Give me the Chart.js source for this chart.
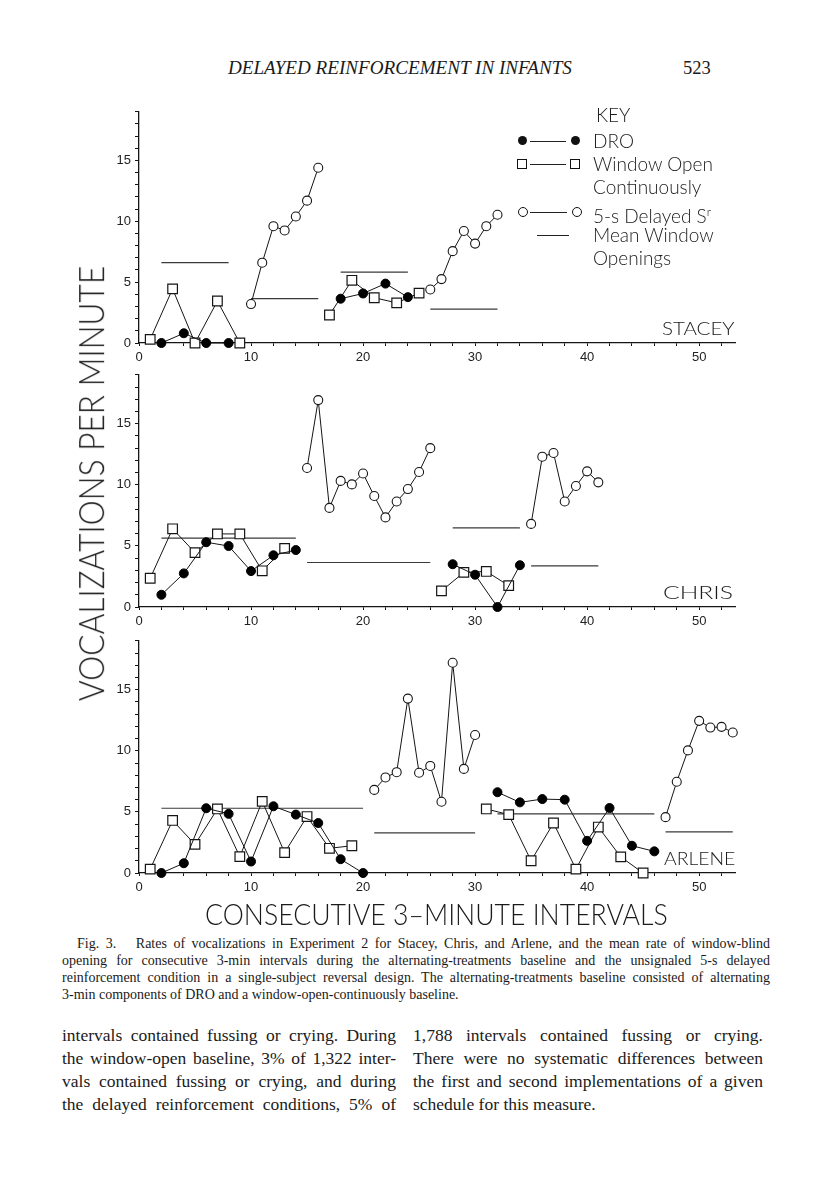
<!DOCTYPE html>
<html lang="en">
<head>
<meta charset="UTF-8" />
<title>Delayed reinforcement in infants - Fig. 3</title>
<script src="https://cdn.jsdelivr.net/npm/chart.js@4.4.1/dist/chart.umd.min.js"></script>
<style>
  body { margin: 0; background: #fff; }
  #page { position: relative; width: 816px; height: 1200px; overflow: hidden; background: #fff; color: #1a1a1a; }
  .abs { position: absolute; white-space: nowrap; }
  .serif { font-family: "Liberation Serif", "DejaVu Serif", serif; }
  .thin { font-family: "Lato", "Open Sans", sans-serif; font-weight: 300; }
  .panel { position: absolute; left: 100px; }
  .key { font-size: 19px; line-height: 24px; }
  .dot, .sq, .ring, .seg { position: absolute; }
  .dot { width: 9px; height: 9px; border-radius: 50%; background: #111; }
  .ring { width: 8px; height: 8px; border-radius: 50%; border: 1px solid #111; }
  .sq { width: 8px; height: 8px; border: 1px solid #111; }
  .seg { height: 1px; background: #222; }
  .jl { text-align: justify; text-align-last: justify; white-space: nowrap; overflow: visible; }
</style>
</head>
<body>
<div id="page">
  <div class="abs serif fit" data-w="344" style="left:228px; top:58px; font-size:18px; font-style:italic;">DELAYED REINFORCEMENT IN INFANTS</div>
  <div class="abs serif" style="left:683px; top:58px; font-size:18.5px;">523</div>

  <canvas id="stacey" class="panel" width="650" height="268" style="top:100px"></canvas>
  <canvas id="chris" class="panel" width="650" height="269" style="top:363px"></canvas>
  <canvas id="arlene" class="panel" width="650" height="269" style="top:629px"></canvas>

  <!-- key -->
  <div class="abs thin key" style="left:596px; top:103px;">KEY</div>
  <div class="dot" style="left:518px; top:136px;"></div>
  <div class="seg" style="left:530px; top:141px; width:36px;"></div>
  <div class="dot" style="left:571px; top:136px;"></div>
  <div class="abs thin key" style="left:593px; top:129px;">DRO</div>

  <div class="sq" style="left:517px; top:159px;"></div>
  <div class="seg" style="left:530px; top:164px; width:36px;"></div>
  <div class="sq" style="left:570px; top:159px;"></div>
  <div class="abs thin key" style="left:593px; top:152px;">Window Open</div>
  <div class="abs thin key" style="left:593px; top:175px;">Continuously</div>

  <div class="ring" style="left:518px; top:207px;"></div>
  <div class="seg" style="left:530px; top:212px; width:37px;"></div>
  <div class="ring" style="left:572px; top:207px;"></div>
  <div class="abs thin key" style="left:593px; top:200px;">5-s Delayed S<sup style="font-size:12px;">r</sup></div>

  <div class="seg" style="left:537px; top:235px; width:32px;"></div>
  <div class="abs thin key" style="left:593px; top:223px;">Mean Window</div>
  <div class="abs thin key" style="left:593px; top:246px;">Openings</div>

  <!-- subject names -->
  <div class="abs thin fit" data-w="73" style="left:662px; top:317px; font-size:18px;">STACEY</div>
  <div class="abs thin fit" data-w="70" style="left:663px; top:581px; font-size:18px;">CHRIS</div>
  <div class="abs thin fit" data-w="71" style="left:664px; top:847px; font-size:18px;">ARLENE</div>

  <!-- axis titles -->
  <div id="ytitle" class="abs thin" style="font-size:35px; line-height:35px;">VOCALIZATIONS PER MINUTE</div>
  <div class="abs thin fit" data-w="463" style="left:205px; top:899px; font-size:29px; line-height:30px;">CONSECUTIVE 3&ndash;MINUTE INTERVALS</div>

  <!-- caption -->
  <div class="abs serif" style="left:62px; top:935px; width:708px; font-size:14px; line-height:17px;">
    <div class="jl" style="padding-left:15px;">Fig. 3.&nbsp;&nbsp; Rates of vocalizations in Experiment 2 for Stacey, Chris, and Arlene, and the mean rate of window-blind</div>
    <div class="jl">opening for consecutive 3-min intervals during the alternating-treatments baseline and the unsignaled 5-s delayed</div>
    <div class="jl">reinforcement condition in a single-subject reversal design. The alternating-treatments baseline consisted of alternating</div>
    <div>3-min components of DRO and a window-open-continuously baseline.</div>
  </div>

  <!-- body text -->
  <div class="abs serif" style="left:62px; top:1024px; width:334px; font-size:17.5px; line-height:23px;">
    <div class="jl">intervals contained fussing or crying. During</div>
    <div class="jl">the window-open baseline, 3% of 1,322 inter-</div>
    <div class="jl">vals contained fussing or crying, and during</div>
    <div class="jl">the delayed reinforcement conditions, 5% of</div>
  </div>
  <div class="abs serif" style="left:413px; top:1024px; width:350px; font-size:17.5px; line-height:23px;">
    <div class="jl">1,788 intervals contained fussing or crying.</div>
    <div class="jl">There were no systematic differences between</div>
    <div class="jl">the first and second implementations of a given</div>
    <div>schedule for this measure.</div>
  </div>
</div>

<script>
// [x, y] per session, one inner list per phase
const staceyDRO = [
  [[2, 0], [4, 0.8], [6, 0], [8, 0]],
  [[18, 3.64], [20, 4.07], [22, 4.88], [24, 3.77]]
];
const staceyWindow = [
  [[1, 0.3], [3, 4.45], [5, 0], [7, 3.45], [9, 0]],
  [[17, 2.3], [19, 5.15], [21, 3.72], [23, 3.3], [25, 4.1]]
];
const staceyDelayed = [
  [[10, 3.2], [11, 6.6], [12, 9.6], [13, 9.25], [14, 10.4], [15, 11.7], [16, 14.4]],
  [[26, 4.4], [27, 5.25], [28, 7.55], [29, 9.2], [30, 8.17], [31, 9.6], [32, 10.54]]
];
// [from, to, mean]
const staceyMeans = [[2, 8, 6.6], [10, 16, 3.64], [18, 24, 5.82], [26, 32, 2.78]];

const chrisDRO = [
  [[2, 1.0], [4, 2.75], [6, 5.3], [8, 4.99], [10, 2.94], [12, 4.23], [14, 4.66]],
  [[28, 3.5], [30, 2.64], [32, 0], [34, 3.42]]
];
const chrisWindow = [
  [[1, 2.35], [3, 6.4], [5, 4.45], [7, 5.98], [9, 5.98], [11, 2.96], [13, 4.8]],
  [[27, 1.32], [29, 2.83], [31, 2.91], [33, 1.75]]
];
const chrisDelayed = [
  [[15, 11.37], [16, 16.93], [17, 8.11], [18, 10.32], [19, 10.03], [20, 10.92], [21, 9.08],
   [22, 7.33], [23, 8.63], [24, 9.65], [25, 11.05], [26, 13.0]],
  [[35, 6.8], [36, 12.3], [37, 12.6], [38, 8.63], [39, 9.9], [40, 11.1], [41, 10.2]]
];
const chrisMeans = [[2, 14, 5.63], [15, 26, 3.64], [28, 34, 6.47], [35, 41, 3.37]];

const arleneDRO = [
  [[2, 0], [4, 0.8], [6, 5.3], [8, 4.84], [10, 0.94], [12, 5.46], [14, 4.78], [16, 4.09], [18, 1.13], [20, 0]],
  [[32, 6.61], [34, 5.78], [36, 6.05], [38, 6.0], [40, 2.63], [42, 5.32], [44, 2.23], [46, 1.77]]
];
const arleneWindow = [
  [[1, 0.32], [3, 4.3], [5, 2.34], [7, 5.24], [9, 1.34], [11, 5.86], [13, 1.67], [15, 4.62], [17, 2.02], [19, 2.23]],
  [[31, 5.24], [33, 4.78], [35, 1.0], [37, 4.09], [39, 0.32], [41, 3.76], [43, 1.32], [45, 0]]
];
const arleneDelayed = [
  [[21, 6.8], [22, 7.82], [23, 8.25], [24, 14.27], [25, 8.2], [26, 8.76], [27, 5.83], [28, 17.2], [29, 8.52], [30, 11.29]],
  [[47, 4.57], [48, 7.47], [49, 10.03], [50, 12.45], [51, 11.9], [52, 11.96], [53, 11.5]]
];
const arleneMeans = [[2, 20, 5.3], [21, 30, 3.28], [32, 46, 4.84], [47, 53, 3.36]];

const yMax = 19;
const xMax = 53.2;
const ink = "#151515";

function pts(seg) {
  return seg.map(([x, y]) => ({ x: x, y: y }));
}

function makePanel(id, dro, win, del, means) {
  const datasets = [];
  dro.forEach(seg => datasets.push({
    data: pts(seg), borderColor: ink, borderWidth: 1,
    pointStyle: "circle", pointRadius: 4.5, pointBackgroundColor: "#000", pointBorderColor: "#000", pointBorderWidth: 1
  }));
  win.forEach(seg => datasets.push({
    data: pts(seg), borderColor: ink, borderWidth: 1,
    pointStyle: "rect", pointRadius: 6.8, pointBackgroundColor: "#fff", pointBorderColor: ink, pointBorderWidth: 1.2
  }));
  del.forEach(seg => datasets.push({
    data: pts(seg), borderColor: ink, borderWidth: 1,
    pointStyle: "circle", pointRadius: 4.5, pointBackgroundColor: "#fff", pointBorderColor: ink, pointBorderWidth: 1.1
  }));
  means.forEach(([a, b, m]) => datasets.push({
    data: [{ x: a, y: m }, { x: b, y: m }], borderColor: "#3a3a3a", borderWidth: 1.2, pointRadius: 0
  }));
  datasets.forEach(d => { d.clip = false; d.tension = 0; d.fill = false; });

  const tickFont = { family: "Liberation Sans", size: 13 };
  new Chart(document.getElementById(id), {
    type: "line",
    data: { datasets: datasets },
    options: {
      responsive: false,
      animation: false,
      devicePixelRatio: 1,
      layout: { padding: { top: 8, right: 15, left: 0, bottom: 0 } },
      plugins: { legend: { display: false }, tooltip: { enabled: false } },
      scales: {
        x: {
          type: "linear", min: 0, max: xMax,
          afterFit: s => { s.height = 25; },
          grid: { drawOnChartArea: false, tickLength: 3, color: ink },
          border: { color: ink, width: 1.3 },
          ticks: {
            stepSize: 2, autoSkip: false, includeBounds: false, maxRotation: 0,
            padding: 4, color: "#222", font: tickFont,
            callback: v => (v % 10 === 0 ? v : "")
          }
        },
        y: {
          type: "linear", min: 0, max: yMax,
          afterFit: s => { s.width = 39; },
          grid: { drawOnChartArea: false, tickLength: 4, color: ink },
          border: { color: ink, width: 1.3 },
          ticks: {
            stepSize: 1, autoSkip: false, includeBounds: false,
            padding: 4, color: "#222", font: tickFont,
            callback: v => (v % 5 === 0 ? v : "")
          }
        }
      }
    }
  });
}

makePanel("stacey", staceyDRO, staceyWindow, staceyDelayed, staceyMeans);
makePanel("chris", chrisDRO, chrisWindow, chrisDelayed, chrisMeans);
makePanel("arlene", arleneDRO, arleneWindow, arleneDelayed, arleneMeans);

// squeeze the light display text to the widths in the figure
document.querySelectorAll(".fit").forEach(el => {
  const s = +el.dataset.w / el.offsetWidth;
  el.style.transformOrigin = "0 0";
  el.style.transform = "scaleX(" + s + ")";
});
const yt = document.getElementById("ytitle");
const ys = 435 / yt.offsetWidth;
yt.style.left = (90 - yt.offsetWidth / 2) + "px";
yt.style.top = (483 - yt.offsetHeight / 2) + "px";
yt.style.transform = "rotate(-90deg) scaleX(" + ys + ")";
</script>
</body>
</html>
